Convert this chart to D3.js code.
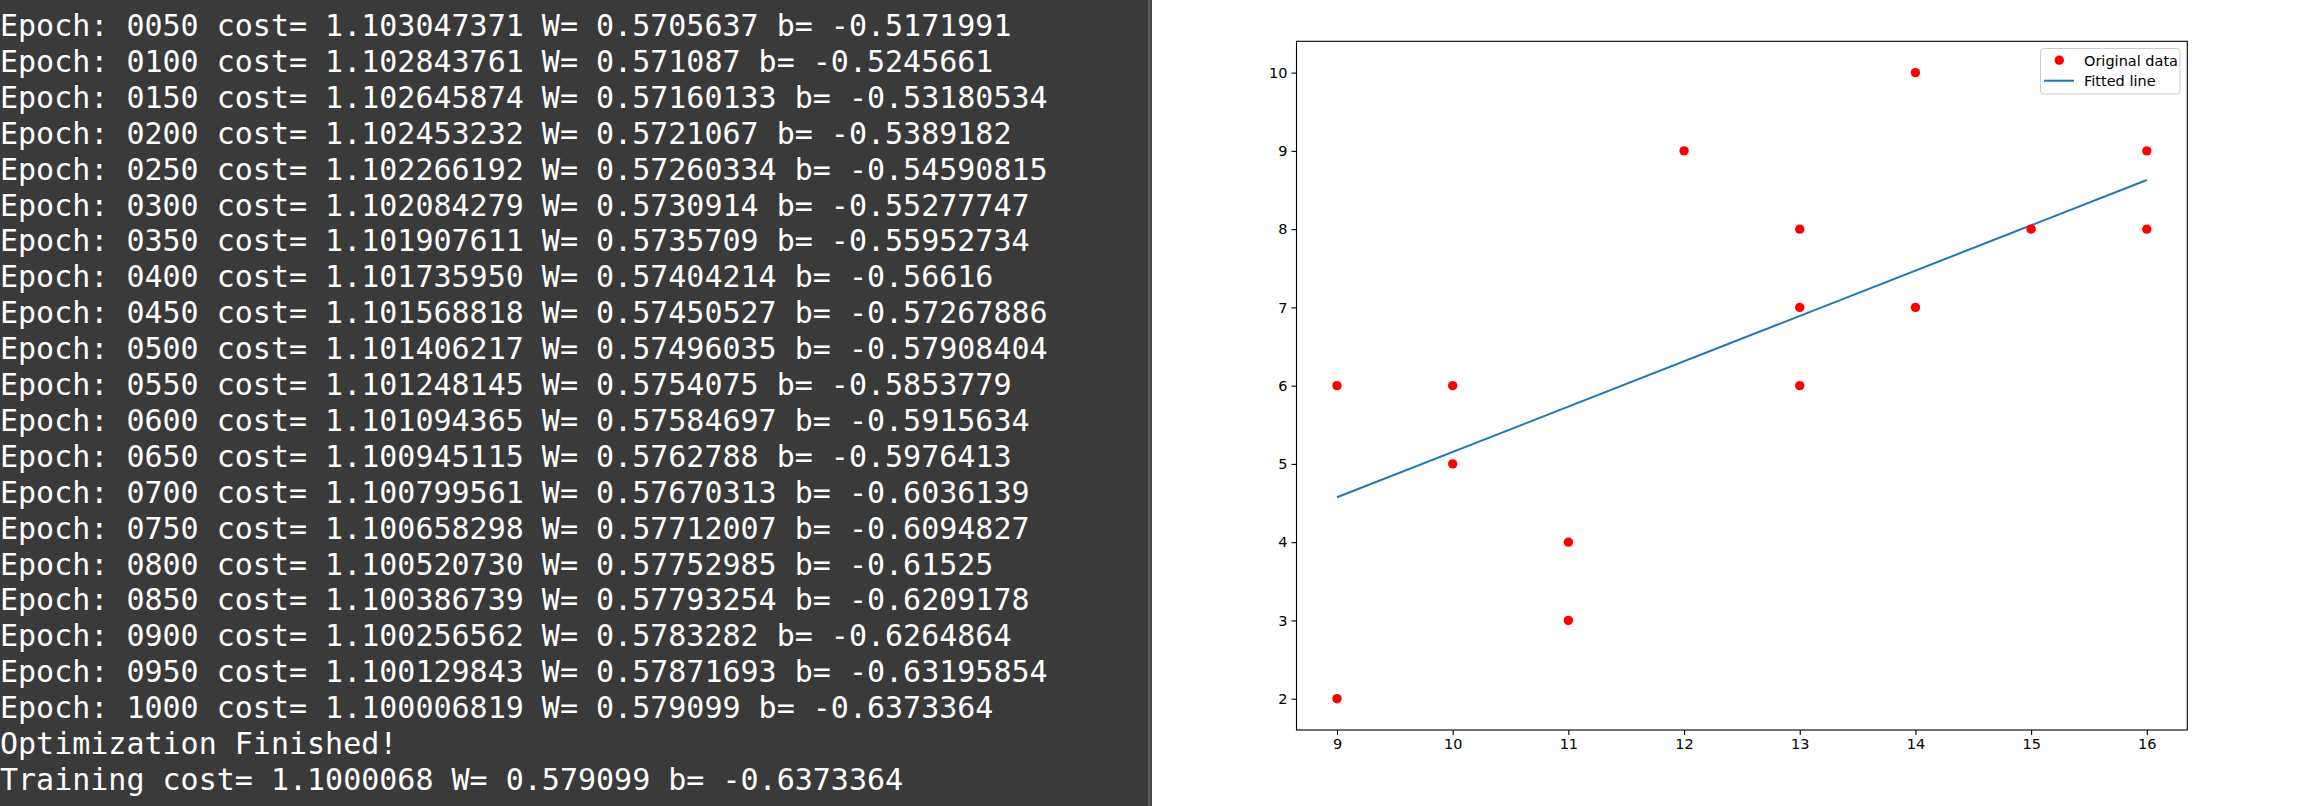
<!DOCTYPE html>
<html lang="en">
<head>
<meta charset="UTF-8">
<title>Linear regression</title>
<script src="https://d3js.org/d3.v7.min.js"></script>
<style>
    body { margin: 0; background: #fff; }
    svg { display: block; }
    .term { font-family: "DejaVu Sans Mono", monospace; font-size: 30px; fill: #ffffff; }
    .tick text, .lg { font-family: "DejaVu Sans", sans-serif; font-size: 14.5px; fill: #000; }
</style>
</head>
<body>
<div id="chart"></div>
<script>
// terminal log
var epochs = ["0050","0100","0150","0200","0250","0300","0350","0400","0450","0500",
              "0550","0600","0650","0700","0750","0800","0850","0900","0950","1000"];
var costs = ["1.103047371","1.102843761","1.102645874","1.102453232","1.102266192",
             "1.102084279","1.101907611","1.101735950","1.101568818","1.101406217",
             "1.101248145","1.101094365","1.100945115","1.100799561","1.100658298",
             "1.100520730","1.100386739","1.100256562","1.100129843","1.100006819"];
var weights = ["0.5705637","0.571087","0.57160133","0.5721067","0.57260334",
               "0.5730914","0.5735709","0.57404214","0.57450527","0.57496035",
               "0.5754075","0.57584697","0.5762788","0.57670313","0.57712007",
               "0.57752985","0.57793254","0.5783282","0.57871693","0.579099"];
var biases = ["-0.5171991","-0.5245661","-0.53180534","-0.5389182","-0.54590815",
              "-0.55277747","-0.55952734","-0.56616","-0.57267886","-0.57908404",
              "-0.5853779","-0.5915634","-0.5976413","-0.6036139","-0.6094827",
              "-0.61525","-0.6209178","-0.6264864","-0.63195854","-0.6373364"];
var footer = ["Optimization Finished!", "Training cost= 1.1000068 W= 0.579099 b= -0.6373364"];

// scatter data
var xData = [9, 9, 10, 10, 11, 11, 12, 13, 13, 13, 14, 14, 15, 16, 16];
var yData = [6, 2, 6, 5, 4, 3, 9, 8, 7, 6, 10, 7, 8, 9, 8];
// fitted line ends
var lineX = [9, 16];
var lineY = [4.574, 8.628];

var xTicks = [9, 10, 11, 12, 13, 14, 15, 16];
var yTicks = [2, 3, 4, 5, 6, 7, 8, 9, 10];
var legendLabels = ["Original data", "Fitted line"];

var W = 2300, H = 806;
var svg = d3.select("#chart").append("svg").attr("width", W).attr("height", H);

// terminal panel
svg.append("rect").attr("x", 0).attr("y", 0).attr("width", 1148).attr("height", H).attr("fill", "#3a3a3a");
svg.append("rect").attr("x", 1148).attr("y", 0).attr("width", 2).attr("height", H).attr("fill", "#5c5c5c");
svg.append("rect").attr("x", 1150).attr("y", 0).attr("width", 2).attr("height", H).attr("fill", "#454545");

var lines = epochs.map(function(e, i) {
    return "Epoch: " + e + " cost= " + costs[i] + " W= " + weights[i] + " b= " + biases[i];
}).concat(footer);

svg.append("g").selectAll("text")
    .data(lines)
    .enter()
    .append("text")
    .attr("class", "term")
    .attr("x", 0)
    .attr("y", function(d, i) { return 36 + i * 35.9; })
    .attr("xml:space", "preserve")
    .text(function(d) { return d; });

// plot area
var pLeft = 1296.5, pRight = 2187.3, pTop = 41.3, pBottom = 730;
var x = d3.scaleLinear().domain([8.65, 16.35]).range([pLeft, pRight]);
var y = d3.scaleLinear().domain([1.6, 10.4]).range([pBottom, pTop]);

svg.append("g")
    .attr("transform", "translate(0," + pBottom + ")")
    .call(d3.axisBottom(x).tickValues(xTicks).tickSize(5).tickPadding(4).tickFormat(d3.format("d")))
    .call(function(g) { g.select(".domain").remove(); });

svg.append("g")
    .attr("transform", "translate(" + pLeft + ",0)")
    .call(d3.axisLeft(y).tickValues(yTicks).tickSize(5).tickPadding(4).tickFormat(d3.format("d")))
    .call(function(g) { g.select(".domain").remove(); });

svg.selectAll(".tick line").attr("stroke", "#000").attr("stroke-width", 1.1);

// fitted line
svg.append("path")
    .datum(lineX.map(function(d, i) { return [d, lineY[i]]; }))
    .attr("fill", "none")
    .attr("stroke", "#1f77b4")
    .attr("stroke-width", 2)
    .attr("d", d3.line().x(function(d) { return x(d[0]); }).y(function(d) { return y(d[1]); }));

// points
svg.append("g").selectAll("circle")
    .data(xData)
    .enter()
    .append("circle")
    .attr("cx", function(d) { return x(d); })
    .attr("cy", function(d, i) { return y(yData[i]); })
    .attr("r", 4.7)
    .attr("fill", "#ff0000");

// frame
svg.append("rect")
    .attr("x", pLeft).attr("y", pTop)
    .attr("width", pRight - pLeft).attr("height", pBottom - pTop)
    .attr("fill", "none").attr("stroke", "#000").attr("stroke-width", 1.1);

// legend
var lg = svg.append("g");
lg.append("rect")
    .attr("x", 2040.5).attr("y", 48.5).attr("width", 139.5).attr("height", 45.5)
    .attr("rx", 3).attr("fill", "#fff").attr("fill-opacity", 0.8)
    .attr("stroke", "#cccccc").attr("stroke-width", 1);
lg.append("circle").attr("cx", 2059.3).attr("cy", 60.3).attr("r", 4.7).attr("fill", "#ff0000");
lg.append("line").attr("x1", 2044).attr("x2", 2074).attr("y1", 80.7).attr("y2", 80.7)
    .attr("stroke", "#1f77b4").attr("stroke-width", 2);
lg.selectAll("text")
    .data(legendLabels)
    .enter()
    .append("text")
    .attr("class", "lg")
    .attr("x", 2084)
    .attr("y", function(d, i) { return 65.6 + i * 20.4; })
    .text(function(d) { return d; });
</script>
</body>
</html>
